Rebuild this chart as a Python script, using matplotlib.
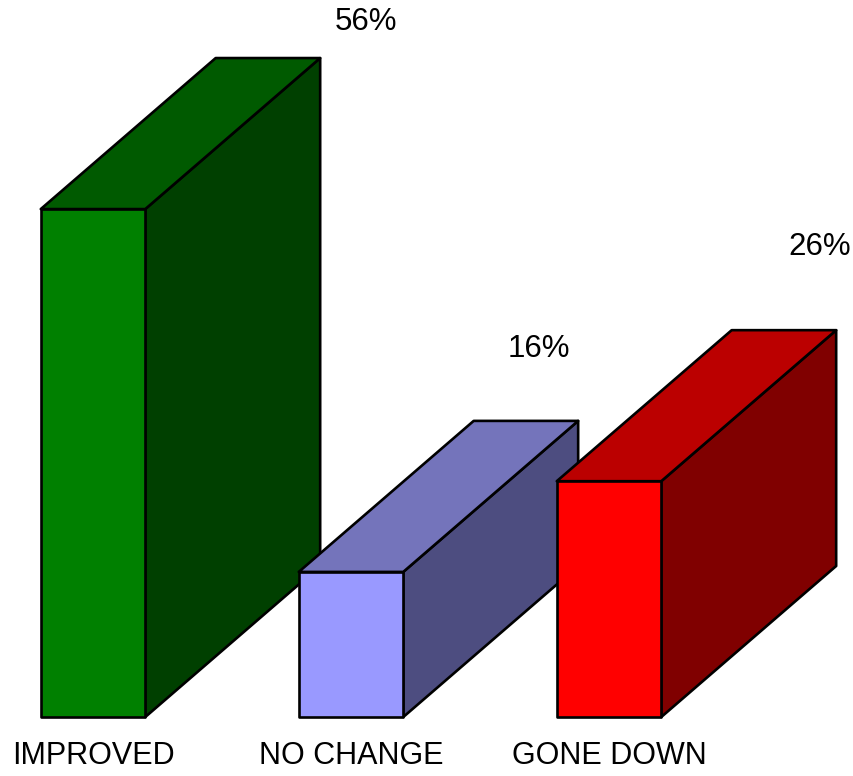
import matplotlib.pyplot as plt
from matplotlib.patches import Polygon

# chart data
categories = ["IMPROVED", "NO CHANGE", "GONE DOWN"]
values = [56, 16, 26]
value_labels = ["56%", "16%", "26%"]

# face colours: front, top, side
front_colors = ["#008000", "#9999FF", "#FF0000"]
top_colors = ["#005A00", "#7474BB", "#BB0000"]
side_colors = ["#004000", "#4D4D80", "#800000"]

# where the percent labels sit (x in slot units, y in percent)
label_pos = [(1.058, 76.6), (1.729, 40.6), (2.818, 51.8)]

bar_w = 0.405      # front face width
depth_x = 0.678    # 3d depth, horizontal
depth_y = 16.65    # 3d depth, vertical (in percent units)

fig = plt.figure(figsize=(8.54, 7.76), dpi=100)
ax = fig.add_axes([0, 0, 1, 1])
ax.set_xlim(-0.3605, 2.9496)
ax.set_ylim(-6.5, 79.05)
ax.axis("off")

edge = dict(edgecolor="black", linewidth=1.9, joinstyle="round")

for i, v in enumerate(values):
    x0 = i - bar_w / 2
    x1 = i + bar_w / 2
    side = [(x1, 0), (x1 + depth_x, depth_y), (x1 + depth_x, v + depth_y), (x1, v)]
    top = [(x0, v), (x1, v), (x1 + depth_x, v + depth_y), (x0 + depth_x, v + depth_y)]
    front = [(x0, 0), (x1, 0), (x1, v), (x0, v)]
    ax.add_patch(Polygon(side, closed=True, facecolor=side_colors[i], **edge))
    ax.add_patch(Polygon(top, closed=True, facecolor=top_colors[i], **edge))
    ax.add_patch(Polygon(front, closed=True, facecolor=front_colors[i], **edge))

for (lx, ly), txt in zip(label_pos, value_labels):
    ax.text(lx, ly, txt, ha="center", va="center", fontsize=22.5,
            family=["Liberation Sans Narrow", "Liberation Sans", "DejaVu Sans"])

for i, c in enumerate(categories):
    ax.text(i, -4.3, c, ha="center", va="center", fontsize=22,
            family=["Liberation Sans", "DejaVu Sans"])

fig.savefig("out.png", dpi=100)
